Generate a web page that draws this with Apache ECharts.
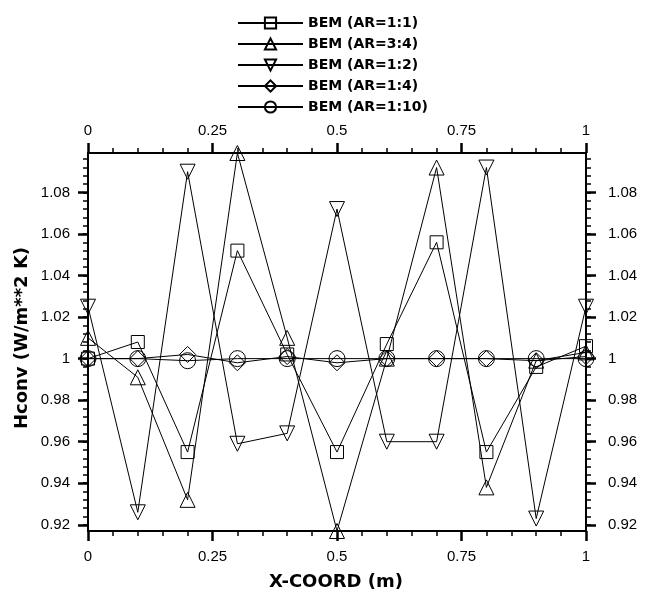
<!DOCTYPE html>
<html>
<head>
<meta charset="utf-8">
<script src="https://cdn.jsdelivr.net/npm/echarts@6/dist/echarts.min.js"></script>
<style>
  html, body { margin: 0; padding: 0; background: #fff; }
  #chart { width: 645px; height: 592px; }
</style>
</head>
<body>
<div id="chart"></div>
<script>
// Sample positions along the wall (m)
const xCoord = [0, 0.1, 0.2, 0.3, 0.4, 0.5, 0.6, 0.7, 0.8, 0.9, 1.0];

// Normalised convective coefficient for each aspect ratio
const seriesNames = ['BEM (AR=1:1)', 'BEM (AR=3:4)', 'BEM (AR=1:2)', 'BEM (AR=1:4)', 'BEM (AR=1:10)'];
const hAR11  = [1.000, 1.008, 0.955, 1.052, 1.002, 0.955, 1.007, 1.056, 0.955, 0.996, 1.006];
const hAR34  = [1.010, 0.991, 0.932, 1.099, 1.010, 0.917, 1.000, 1.092, 0.938, 0.999, 1.003];
const hAR12  = [1.025, 0.926, 1.090, 0.959, 0.964, 1.072, 0.960, 0.960, 1.092, 0.923, 1.025];
const hAR14  = [1.000, 1.000, 1.002, 0.998, 1.001, 0.998, 1.000, 1.000, 1.000, 0.999, 1.001];
const hAR110 = [1.000, 1.000, 0.999, 1.000, 1.000, 1.000, 1.000, 1.000, 1.000, 1.000, 1.000];

// Axis ticks
const yTickLabels = [0.92, 0.94, 0.96, 0.98, 1.00, 1.02, 1.04, 1.06, 1.08];
const yMin = 0.917, yMax = 1.099;
const xTickLabels = [0, 0.25, 0.5, 0.75, 1];

// minor ticks on the value axis every 0.004
const yMinor = [];
for (let v = 0.920; v < yMax - 1e-9; v += 0.004) yMinor.push(Math.round(v * 1000) / 1000);

const symbols = [
  { symbol: 'rect', size: 13, rotate: 0 },
  { symbol: 'triangle', size: 15, rotate: 0 },
  { symbol: 'triangle', size: 15, rotate: 180 },
  { symbol: 'diamond', size: 16, rotate: 0 },
  { symbol: 'circle', size: 16, rotate: 0 }
];
const seriesData = [hAR11, hAR34, hAR12, hAR14, hAR110];

const font = 'Liberation Sans, Arial, Helvetica, sans-serif';
const boldFont = 'DejaVu Sans, Verdana, sans-serif';
const black = '#000';

const chart = echarts.init(document.getElementById('chart'), null, { renderer: 'canvas' });

function yAxisDef(pos, major, showLabel) {
  return {
    type: 'value', position: pos, min: yMin, max: yMax,
    axisLine: { show: true, lineStyle: { color: black, width: 2 } },
    splitLine: { show: false },
    axisTick: {
      show: true, length: major ? 10 : 5,
      lineStyle: { color: black, width: major ? 2.5 : 1.5 },
      customValues: major ? yTickLabels : yMinor
    },
    axisLabel: {
      show: showLabel, margin: pos === 'left' ? 18 : 22,
      customValues: yTickLabels,
      color: black, fontFamily: font, fontSize: 15,
      formatter: v => String(Math.round(v * 100) / 100)
    }
  };
}

function xAxisDef(pos) {
  return {
    type: 'value', position: pos, min: 0, max: 1, interval: 0.25,
    axisLine: { show: true, lineStyle: { color: black, width: 2 } },
    splitLine: { show: false },
    axisTick: { show: true, length: 10, lineStyle: { color: black, width: 2.5 } },
    minorTick: { show: true, splitNumber: 5, length: 5, lineStyle: { color: black, width: 1.5 } },
    minorSplitLine: { show: false },
    axisLabel: {
      show: true, margin: pos === 'bottom' ? 18 : 15,
      color: black, fontFamily: font, fontSize: 15,
      formatter: v => String(v)
    }
  };
}

const option = {
  backgroundColor: '#fff',
  animation: false,
  grid: { left: 88, right: 59, top: 153, bottom: 61, containLabel: false },
  legend: {
    orient: 'vertical', left: 232, top: 11,
    itemWidth: 65, itemHeight: 14, itemGap: 7,
    textStyle: { color: black, fontFamily: boldFont, fontSize: 14, fontWeight: 'bold' },
    data: seriesNames
  },
  xAxis: [xAxisDef('bottom'), xAxisDef('top')],
  yAxis: [
    yAxisDef('left', true, true),
    yAxisDef('left', false, false),
    yAxisDef('right', true, true),
    yAxisDef('right', false, false)
  ],
  graphic: [
    {
      type: 'text', x: 336, y: 582,
      style: { text: 'X-COORD (m)', fill: black, font: 'bold 18px ' + boldFont, align: 'center', verticalAlign: 'middle' }
    },
    {
      type: 'text', x: 22, y: 338, rotation: Math.PI / 2,
      style: { text: 'Hconv (W/m**2 K)', fill: black, font: 'bold 18px ' + boldFont, align: 'center', verticalAlign: 'middle' }
    }
  ],
  series: seriesData.map((vals, i) => ({
    name: seriesNames[i],
    type: 'line',
    xAxisIndex: 0, yAxisIndex: 0,
    data: xCoord.map((x, j) => [x, vals[j]]),
    symbol: symbols[i].symbol,
    symbolSize: symbols[i].size,
    symbolRotate: symbols[i].rotate,
    showAllSymbol: true,
    lineStyle: { color: black, width: 1 },
    itemStyle: { color: 'rgba(0,0,0,0)', borderColor: black, borderWidth: 1 },
    emphasis: { disabled: true },
    z: 2
  }))
};

chart.setOption(option);
</script>
</body>
</html>
